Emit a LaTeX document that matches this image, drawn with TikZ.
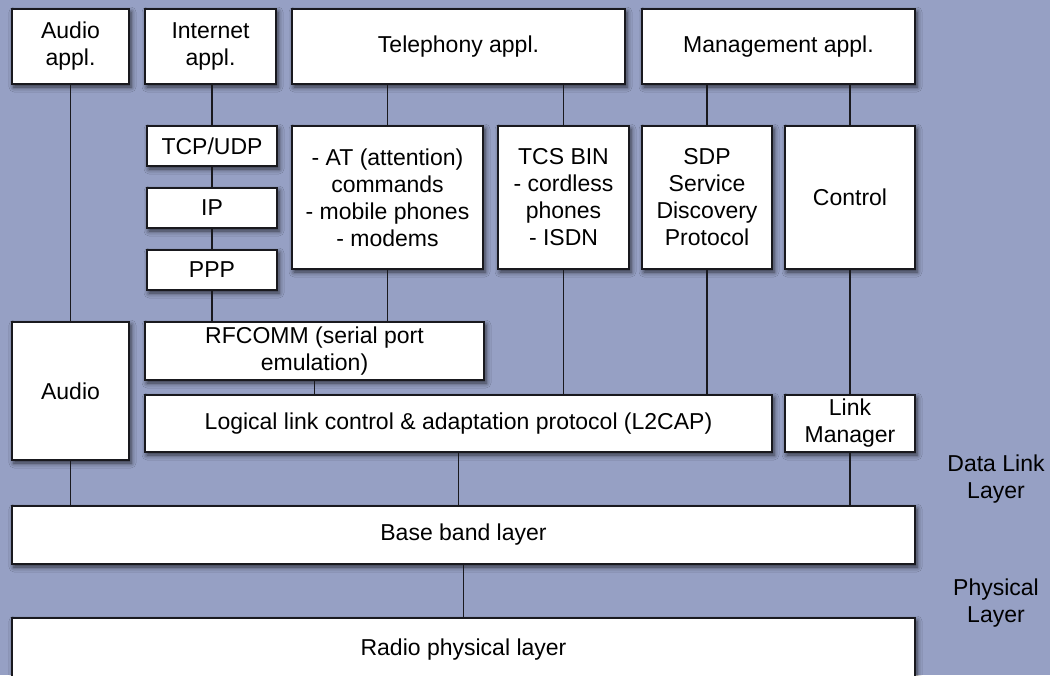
\documentclass[tikz,border=0pt]{standalone}
\usepackage{fontspec}
\setmainfont{Liberation Sans}
\usetikzlibrary{shadows.blur}
\definecolor{bgblue}{RGB}{150,160,196}
\definecolor{edge}{RGB}{25,25,30}
\begin{document}
\begin{tikzpicture}[x=1pt,y=-1pt,
  box/.style={draw=edge, line width=1.6pt, fill=white, inner sep=0pt, outer sep=0pt,
    align=center, font=\fontsize{23}{27}\selectfont,
    blur shadow={shadow xshift=2pt, shadow yshift=-3pt, shadow blur radius=5pt, shadow opacity=70}},
  link/.style={draw=edge, line width=1.3pt},
  layerlabel/.style={align=center, font=\fontsize{23}{27}\selectfont}]
\useasboundingbox (0,0) rectangle (1050,675);
\clip (0,0) rectangle (1050,675);
\fill[bgblue] (0,0) rectangle (1050,675);
% top row
\node[box, minimum width=117pt, minimum height=75pt] (audioappl) at (70.5,46.5) {Audio\\appl.};
\node[box, minimum width=131pt, minimum height=75pt] (inetappl) at (210.5,46.5) {Internet\\appl.};
\node[box, minimum width=333pt, minimum height=75pt] (tel) at (458.5,46.5) {Telephony appl.};
\node[box, minimum width=273pt, minimum height=75pt] (mgmt) at (778.5,46.5) {Management appl.};
% middle
\node[box, minimum width=130pt, minimum height=40pt] (tcp) at (212,146) {TCP/UDP};
\node[box, minimum width=130pt, minimum height=40pt] (ip) at (212,208) {IP};
\node[box, minimum width=130pt, minimum height=40pt] (ppp) at (212,270) {PPP};
\node[box, minimum width=191pt, minimum height=143pt] (at) at (387.5,197.5) {- AT (attention)\\commands\\- mobile phones\\- modems};
\node[box, minimum width=131pt, minimum height=143pt] (tcs) at (563.5,197.5) {TCS BIN\\- cordless\\phones\\- ISDN};
\node[box, minimum width=130pt, minimum height=143pt] (sdp) at (707,197.5) {SDP\\Service\\Discovery\\Protocol};
\node[box, minimum width=130pt, minimum height=143pt] (control) at (850,197.5) {Control};
% lower
\node[box, minimum width=117pt, minimum height=138pt] (audio) at (70.5,391) {Audio};
\node[box, minimum width=339pt, minimum height=58pt] (rfcomm) at (314.5,351) {RFCOMM (serial port\\emulation)};
\node[box, minimum width=627pt, minimum height=57pt] (l2cap) at (458.5,423.5) {Logical link control \& adaptation protocol (L2CAP)};
\node[box, minimum width=130pt, minimum height=57pt] (lm) at (850,423.5) {Link\\Manager};
\node[box, minimum width=903pt, minimum height=58pt] (base) at (463.5,535) {Base band layer};
\node[box, minimum width=903pt, minimum height=62pt, text depth=4pt] (radio) at (463.5,649) {Radio physical layer};
% layer labels
\node[layerlabel] (dll) at (996,479) {Data Link\\Layer};
\node[layerlabel] (phl) at (996,603) {Physical\\Layer};
% connectors
\draw[link] (audioappl.south) -- (audio.north);
\draw[link] (tcp.north) -- (tcp.north |- inetappl.south);
\draw[link] (tcp.south) -- (ip.north);
\draw[link] (ip.south) -- (ppp.north);
\draw[link] (ppp.south) -- (ppp.south |- rfcomm.north);
\draw[link] (at.north) -- (at.north |- tel.south);
\draw[link] (tcs.north) -- (tcs.north |- tel.south);
\draw[link] (sdp.north) -- (sdp.north |- mgmt.south);
\draw[link] (control.north) -- (control.north |- mgmt.south);
\draw[link] (at.south) -- (at.south |- rfcomm.north);
\draw[link] (rfcomm.south) -- (rfcomm.south |- l2cap.north);
\draw[link] (tcs.south) -- (tcs.south |- l2cap.north);
\draw[link] (sdp.south) -- (sdp.south |- l2cap.north);
\draw[link] (control.south) -- (lm.north);
\draw[link] (audio.south) -- (audio.south |- base.north);
\draw[link] (l2cap.south) -- (l2cap.south |- base.north);
\draw[link] (lm.south) -- (lm.south |- base.north);
\draw[link] (base.south) -- (base.south |- radio.north);
\end{tikzpicture}
\end{document}
